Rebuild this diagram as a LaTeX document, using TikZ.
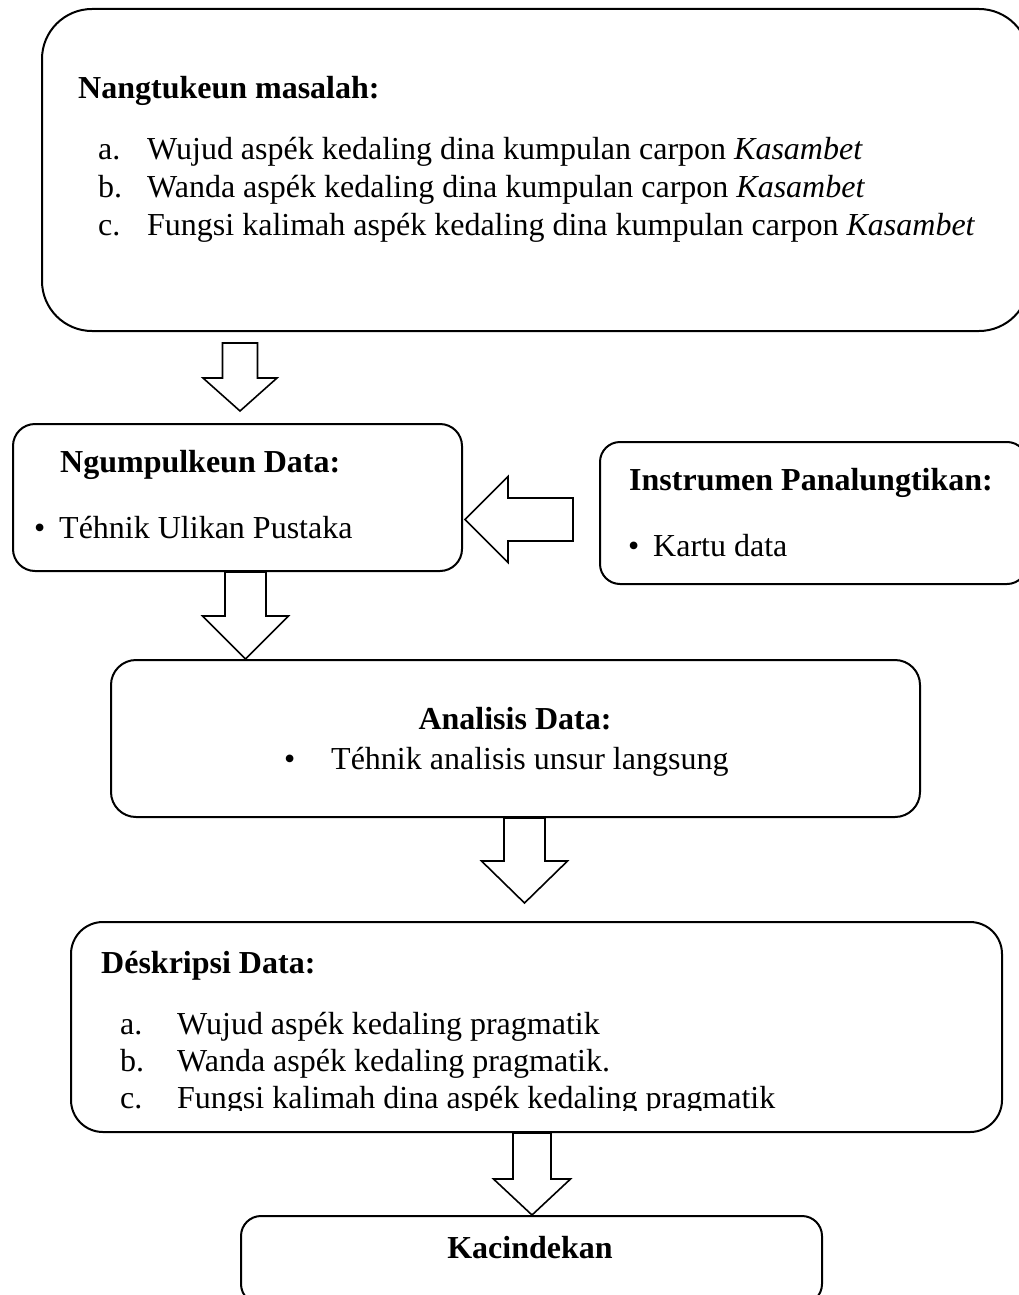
\documentclass[tikz,border=0pt]{standalone}
\usepackage{fontspec}
\setmainfont{Liberation Serif}
\usetikzlibrary{calc}

% block arrow pointing down: start, tip, shaft half width, head half width, head length
\newcommand\blockdown[5]{%
  \draw[blockarrow] ($(#1)+(-#3,0)$) -- ($(#2)+(-#3,-#5)$) -- ($(#2)+(-#4,-#5)$)
    -- (#2) -- ($(#2)+(#4,-#5)$) -- ($(#2)+(#3,-#5)$) -- ($(#1)+(#3,0)$) -- cycle;}

\begin{document}
\begin{tikzpicture}[x=1pt, y=-1pt,
    box/.style={draw, line width=2pt, anchor=north west, inner sep=0pt},
    txt/.style={anchor=base west, inner sep=0pt, font=\fontsize{32}{37}\selectfont},
    head/.style={txt, font=\fontsize{32}{37}\selectfont\bfseries},
    blockarrow/.style={draw, fill=white, line width=1.6pt, line join=miter}]
    \useasboundingbox (0,0) rectangle (1019,1295);

    % Nangtukeun masalah
    \node[box, rounded corners=50, minimum width=987, minimum height=322] (masalah) at (41,8) {};
    \node[head] (masalahHead) at (78,99) {Nangtukeun masalah:};
    \node[txt] (masalahLa) at (98,160) {a.};
    \node[txt] (masalahA) at (147,160) {Wujud aspék kedaling dina kumpulan carpon \textit{Kasambet}};
    \node[txt] (masalahLb) at (98,197.5) {b.};
    \node[txt] (masalahB) at (147,197.5) {Wanda aspék kedaling dina kumpulan carpon \textit{Kasambet}};
    \node[txt] (masalahLc) at (98,235) {c.};
    \node[txt] (masalahC) at (147,235) {Fungsi kalimah aspék kedaling dina kumpulan carpon \textit{Kasambet}};

    % Ngumpulkeun data
    \node[box, rounded corners=22, minimum width=449, minimum height=147] (ngumpul) at (12,423) {};
    \node[head] (ngumpulHead) at (60,472) {Ngumpulkeun Data:};
    \node[txt] (ngumpulDot) at (34,538) {\textbullet};
    \node[txt] (ngumpulA) at (59,538) {Téhnik Ulikan Pustaka};

    % Instrumen
    \node[box, rounded corners=20, minimum width=427, minimum height=142] (instrumen) at (599,441) {};
    \node[head] (instrumenHead) at (629,490) {Instrumen Panalungtikan:};
    \node[txt] (instrumenDot) at (628,556) {\textbullet};
    \node[txt] (instrumenA) at (653,556) {Kartu data};

    % Analisis data
    \node[box, rounded corners=25, minimum width=809, minimum height=157] (analisis) at (110,659) {};
    \node[head, anchor=base] (analisisHead) at (515,729) {Analisis Data:};
    \node[txt] (analisisDot) at (284,769) {\textbullet};
    \node[txt] (analisisA) at (331,769) {Téhnik analisis unsur langsung};

    % Deskripsi data
    \node[box, rounded corners=32, minimum width=931, minimum height=210] (deskripsi) at (70,921) {};
    \node[head] (deskripsiHead) at (101,973) {Déskripsi Data:};
    \node[txt] (deskripsiLa) at (120,1034) {a.};
    \node[txt] (deskripsiA) at (177,1034) {Wujud aspék kedaling pragmatik};
    \node[txt] (deskripsiLb) at (120,1071) {b.};
    \node[txt] (deskripsiB) at (177,1071) {Wanda aspék kedaling pragmatik.};
    \begin{scope}
        \clip (100,1080) rectangle (990,1110);
        \node[txt] (deskripsiLc) at (120,1108) {c.};
        \node[txt] (deskripsiC) at (177,1108) {Fungsi kalimah dina aspék kedaling pragmatik};
    \end{scope}

    % Kacindekan
    \node[box, rounded corners=20, minimum width=581, minimum height=88] (kacindekan) at (240,1215) {};
    \node[head, anchor=base] (kacindekanHead) at (530,1258) {Kacindekan};

    % arrows
    \coordinate (a1s) at (240,343);
    \coordinate (a1t) at (240,411);
    \blockdown{a1s}{a1t}{17.5}{37}{33}
    \coordinate (a2s) at (ngumpul.south -| 245.5,0);
    \coordinate (a2t) at (analisis.north -| 245.5,0);
    \blockdown{a2s}{a2t}{20.5}{43}{43}
    \coordinate (a3s) at (analisis.south -| 524.5,0);
    \coordinate (a3t) at (524.5,903);
    \blockdown{a3s}{a3t}{20.5}{43}{42}
    \coordinate (a4s) at (deskripsi.south -| 532,0);
    \coordinate (a4t) at (kacindekan.north -| 532,0);
    \blockdown{a4s}{a4t}{19}{38.5}{36}

    % arrow from instrumen to ngumpul
    \coordinate (a5s) at (573,519.5);
    \coordinate (a5t) at (465,519.5);
    \draw[blockarrow] ($(a5s)+(0,-21.5)$) -- ($(a5t)+(43,-21.5)$) -- ($(a5t)+(43,-43)$)
        -- (a5t) -- ($(a5t)+(43,43)$) -- ($(a5t)+(43,21.5)$) -- ($(a5s)+(0,21.5)$) -- cycle;
\end{tikzpicture}
\end{document}
